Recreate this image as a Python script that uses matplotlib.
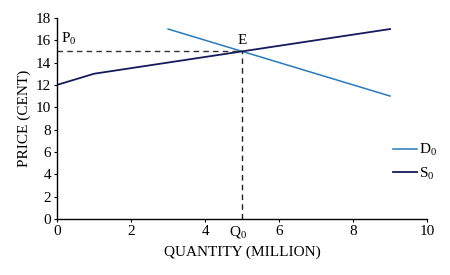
import matplotlib
matplotlib.use("Agg")
import matplotlib.pyplot as plt

# supply and demand schedules (quantity in million, price in cents)
supply_q = [0, 1, 9]
supply_p = [12, 13, 17]
demand_q = [3, 9]
demand_p = [17, 11]
q0, p0 = 5, 15

x_ticks = [0, 2, 4, 6, 8, 10]
y_ticks = [0, 2, 4, 6, 8, 10, 12, 14, 16, 18]

plt.rcParams['font.family'] = ['Liberation Serif', 'DejaVu Serif']
plt.rcParams['mathtext.fontset'] = 'custom'
plt.rcParams['mathtext.rm'] = 'Liberation Serif'
plt.rcParams['mathtext.it'] = 'Liberation Serif'
plt.rcParams['mathtext.default'] = 'regular'

fs = 11

fig = plt.figure(figsize=(4.5, 2.75), dpi=100)
ax = fig.add_axes([0.127, 0.204, 0.822, 0.731])

ax.plot(demand_q, demand_p, color='#2a7bbd', lw=1.1, label='D$_0$')
ax.plot(supply_q, supply_p, color='#141a5c', lw=1.3, label='S$_0$')

# equilibrium guides
ax.plot([0, q0], [p0, p0], ls=(0, (4, 3)), color='#333333', lw=1.0)
ax.plot([q0, q0], [0, p0], ls=(0, (4, 3)), color='#222222', lw=1.0)

ax.text(0.1, 16.1, 'P$_0$', fontsize=fs, ha='left', va='center')
ax.text(q0, 15.4, 'E', fontsize=fs, ha='center', va='bottom')
ax.text(q0 - 0.1, -0.45, 'Q$_0$', fontsize=fs, ha='center', va='top')

ax.set_xlim(0, 10)
ax.set_ylim(0, 18)
ax.set_xticks(x_ticks)
ax.set_yticks(y_ticks)
ax.tick_params(labelsize=fs, length=2.5, width=0.8, pad=2)
ax.spines['top'].set_visible(False)
ax.spines['right'].set_visible(False)
ax.spines['left'].set_linewidth(1.0)
ax.spines['bottom'].set_linewidth(1.0)

ax.set_xlabel('QUANTITY (MILLION)', fontsize=fs, labelpad=5)
ax.set_ylabel('PRICE (CENT)', fontsize=fs, labelpad=3)

ax.legend(loc='center left', bbox_to_anchor=(0.873, 0.411),
          bbox_transform=fig.transFigure, frameon=False, fontsize=fs,
          borderpad=0, borderaxespad=0, handlelength=1.6,
          handletextpad=0.1, labelspacing=0.5)

fig.savefig('out.png', dpi=100)
